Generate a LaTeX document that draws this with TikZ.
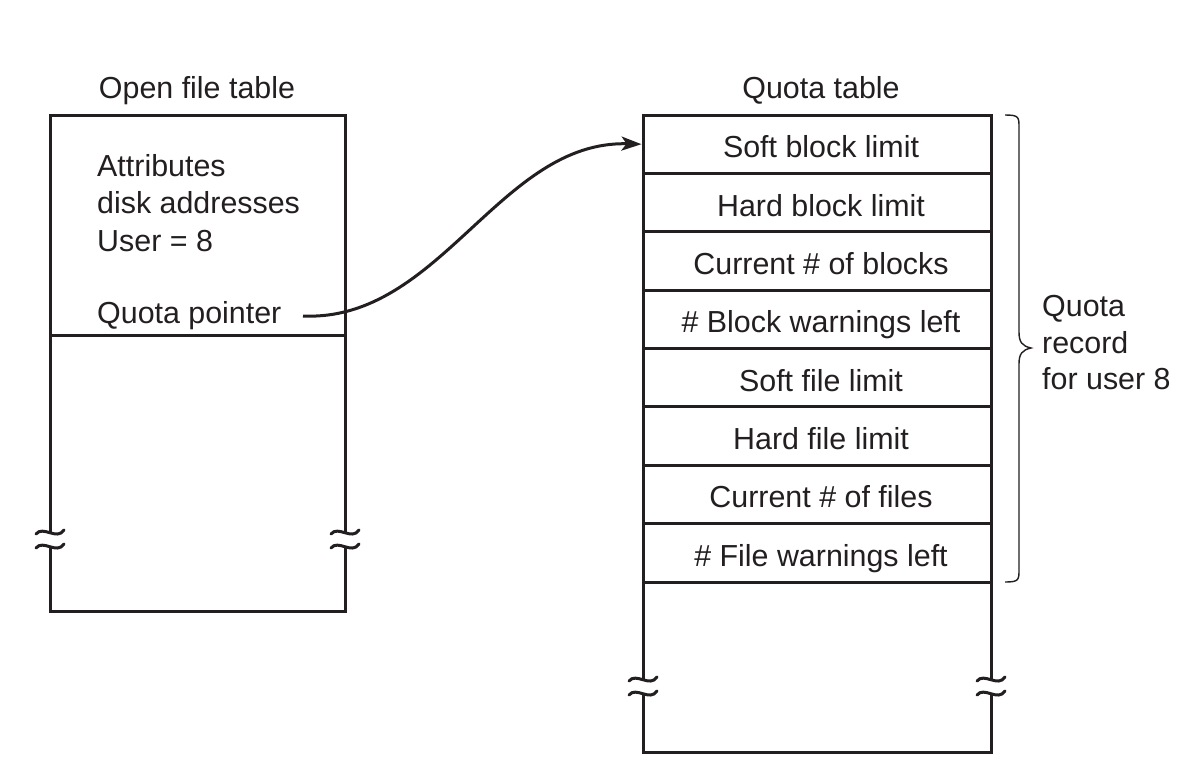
\documentclass[tikz,border=0pt]{standalone}
\usepackage{fontspec}
\setmainfont{Liberation Sans}
\usetikzlibrary{arrows.meta}
\definecolor{ink}{HTML}{231F20}
\tikzset{
  frame/.style={draw=ink, line width=3pt, line join=miter},
  row/.style={draw=ink, line width=3pt, minimum width=348pt, minimum height=58.375pt,
    inner sep=0pt, text height=27pt, text depth=0pt, font=\fontsize{30.4}{36}\selectfont, text=ink},
  lbl/.style={inner sep=0pt, font=\fontsize{30.4}{36}\selectfont, text=ink},
  wave/.style={draw=ink, line width=3pt, line cap=round},
  conn/.style={draw=ink, line width=3pt, -{Stealth[length=20pt,width=14pt,inset=5pt]}},
  bracestyle/.style={draw=ink, line width=1.4pt}
}
\newcommand{\breakmark}[2]{%
  \draw[wave] (#1-14,#2-4) .. controls (#1-7,#2-13) and (#1+7,#2+3) .. (#1+14,#2-8);
  \draw[wave] (#1-14,#2+10) .. controls (#1-7,#2+1) and (#1+7,#2+17) .. (#1+14,#2+6);
}
\begin{document}
\begin{tikzpicture}[x=1pt,y=-1pt]
\useasboundingbox (0,0) rectangle (1204,780);
\fill[white] (0,0) rectangle (1204,780);

% ---- Open file table ----
\node[lbl, anchor=base] (oftitle) at (197,98) {Open file table};
\draw[frame] (50,533) -- (50,115) -- (345,115) -- (345,533);
\draw[frame] (50,547) -- (50,611) -- (345,611) -- (345,547);
\draw[frame] (50,335) -- (345,335);
\breakmark{50}{538}
\breakmark{345}{538}
\node[lbl, anchor=base west] (attr) at (97,176) {Attributes};
\node[lbl, anchor=base west] (disk) at (97,213) {disk addresses};
\node[lbl, anchor=base west] (user) at (97,251) {User = 8};
\node[lbl, anchor=base west] (qp) at (97,323) {Quota pointer};
\coordinate (qpstart) at (303,316);

% ---- Quota table ----
\node[lbl, anchor=base] (qttitle) at (821,98) {Quota table};
\foreach \i/\t in {1/Soft block limit,2/Hard block limit,3/Current \# of blocks,4/\# Block warnings left,5/Soft file limit,6/Hard file limit,7/Current \# of files,8/\# File warnings left}{
  \node[row] (r\i) at (817,{115+58.375*(\i-0.5)}) {\hspace*{8pt}\t};
}
\draw[frame] (643,582) -- (643,680);
\draw[frame] (991,582) -- (991,680);
\draw[frame] (643,694) -- (643,752) -- (991,752) -- (991,694);
\breakmark{643}{685}
\breakmark{991}{685}

% ---- arrow ----
\draw[conn] (qpstart) .. controls (440,322) and (500,140) .. (r1.west);

% ---- brace ----
\draw[bracestyle] (1005,115) .. controls (1019,115) and (1019,117) .. (1019,128)
  -- (1019,332) .. controls (1019,342) and (1022,346) .. (1031,348)
  .. controls (1022,350) and (1019,354) .. (1019,364)
  -- (1019,569) .. controls (1019,580) and (1019,582) .. (1005,582);
\node[lbl, anchor=base west] (qr1) at (1042,316) {Quota};
\node[lbl, anchor=base west] (qr2) at (1042,353) {record};
\node[lbl, anchor=base west] (qr3) at (1042,389) {for user 8};
\end{tikzpicture}
\end{document}
